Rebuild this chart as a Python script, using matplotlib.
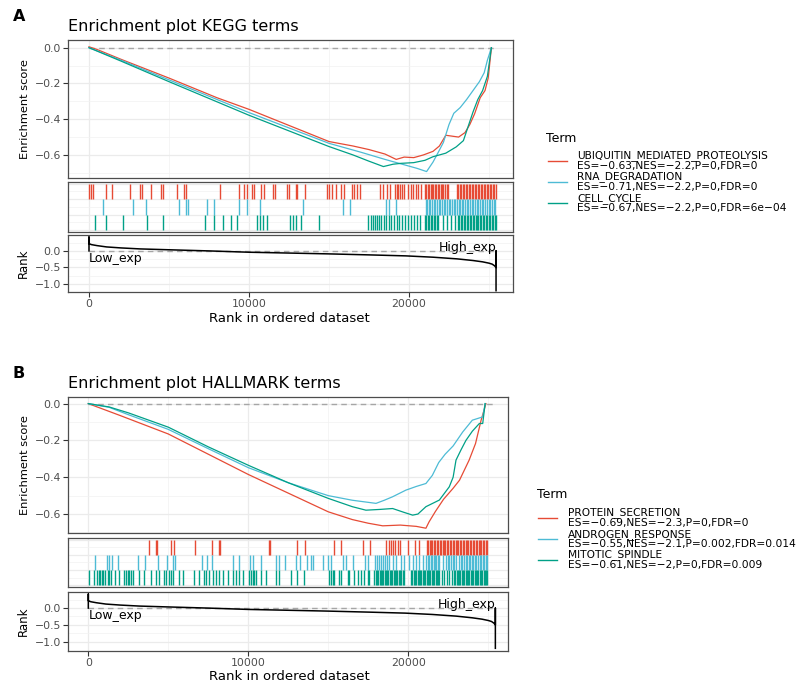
import matplotlib
matplotlib.use("Agg")
import matplotlib.pyplot as plt
from matplotlib.lines import Line2D
from matplotlib.ticker import FixedLocator

plt.rcParams['font.family'] = ['DejaVu Sans']

W, H = 804, 682

# ------------------------------------------------------------------ data
colors = ["#E64B35", "#4DBBD5", "#00A087"]

terms_A = ["UBIQUITIN_MEDIATED_PROTEOLYSIS", "RNA_DEGRADATION", "CELL_CYCLE"]
stats_A = ["ES=\u22120.63,NES=\u22122.2,P=0,FDR=0",
           "ES=\u22120.71,NES=\u22122.2,P=0,FDR=0",
           "ES=\u22120.67,NES=\u22122.2,P=0,FDR=6e\u221204"]
terms_B = ["PROTEIN_SECRETION", "ANDROGEN_RESPONSE", "MITOTIC_SPINDLE"]
stats_B = ["ES=\u22120.69,NES=\u22122.3,P=0,FDR=0",
           "ES=\u22120.55,NES=\u22122.1,P=0.002,FDR=0.014",
           "ES=\u22120.61,NES=\u22122,P=0,FDR=0.009"]

# running enrichment scores (rank, ES)
esA_red_x = [0, 500, 2000, 5000, 8000, 10000, 12500, 15000, 16500, 17500, 18500, 19200, 19700, 20300,
             20900, 21500, 21900, 22300, 22700, 23100, 23500, 23800, 24100, 24450, 24750, 24950, 25150]
esA_red_y = [0.005, -0.01, -0.065, -0.17, -0.28, -0.345, -0.435, -0.525, -0.55, -0.57, -0.595, -0.625,
             -0.612, -0.615, -0.600, -0.58, -0.55, -0.49, -0.495, -0.50, -0.475, -0.43, -0.37, -0.28,
             -0.24, -0.17, 0.0]
esA_blue_x = [0, 2000, 5000, 10000, 15000, 17000, 18500, 19500, 20500, 21100, 21500, 21800, 22150,
              22500, 22800, 23200, 23600, 24000, 24400, 24700, 24900, 25150]
esA_blue_y = [0, -0.07, -0.18, -0.363, -0.535, -0.585, -0.625, -0.65, -0.675, -0.693, -0.64, -0.59,
              -0.53, -0.43, -0.367, -0.335, -0.29, -0.24, -0.19, -0.14, -0.07, 0.0]
esA_green_x = [0, 2000, 5000, 10000, 15000, 16500, 17500, 18400, 19000, 19500, 20300, 21000, 21500,
               22300, 22950, 23400, 23700, 24000, 24300, 24600, 24900, 25150]
esA_green_y = [0, -0.075, -0.19, -0.378, -0.553, -0.60, -0.635, -0.665, -0.652, -0.647, -0.643, -0.63,
               -0.61, -0.59, -0.555, -0.52, -0.44, -0.36, -0.29, -0.24, -0.16, 0.0]

esB_red_x = [0, 2000, 5000, 10000, 15000, 16500, 17500, 18400, 19500, 20500, 21100, 21300, 21700,
             22200, 22800, 23200, 23800, 24200, 24550, 24850]
esB_red_y = [0, -0.065, -0.165, -0.385, -0.588, -0.63, -0.65, -0.664, -0.66, -0.667, -0.677, -0.642,
             -0.585, -0.52, -0.46, -0.416, -0.307, -0.217, -0.09, 0.0]
esB_blue_x = [0, 1300, 2500, 5000, 7500, 10000, 12500, 15000, 16500, 17980, 18500, 19020, 19850,
              20500, 21100, 21500, 21900, 22300, 22800, 23400, 24000, 24650, 24800]
esB_blue_y = [0, -0.02, -0.06, -0.14, -0.245, -0.348, -0.43, -0.5, -0.525, -0.542, -0.525, -0.506,
              -0.47, -0.45, -0.434, -0.39, -0.32, -0.275, -0.23, -0.154, -0.09, -0.072, 0.0]
esB_green_x = [0, 1300, 2500, 5000, 7500, 10000, 12500, 15000, 16500, 17350, 18200, 19020, 19700,
               20270, 20600, 21100, 21940, 22560, 22800, 22980, 23300, 23600, 24000, 24440, 24650, 24800]
esB_green_y = [0, -0.018, -0.05, -0.128, -0.235, -0.335, -0.43, -0.515, -0.56, -0.579, -0.575, -0.57,
               -0.59, -0.606, -0.60, -0.56, -0.524, -0.452, -0.40, -0.307, -0.25, -0.2, -0.15, -0.108,
               -0.108, 0.0]

# hit positions (rank of each gene of the set)
hitsA_red = [20, 104, 270, 1060, 1460, 2560, 3190, 3310, 3875, 4500, 4650, 5480, 5940, 6060, 8190, 9400,
             9670, 9850, 10210, 10330, 10750, 10920, 11500, 11625, 12400, 12520, 12950, 13020, 13480,
             14900, 15020, 15170, 15420, 15750, 15960, 16420, 16580, 16730, 16940, 18190, 18400, 18600,
             18810, 19150, 19250, 19330, 19450, 19560, 19680, 19960, 20100, 20270, 20440, 20580, 20730,
             21000, 21080, 21170, 21260, 21350, 21440, 21530, 21620, 21700, 21790, 21880, 21970, 22060,
             22150, 22250, 22350, 22460, 23000, 23090, 23180, 23280, 23370, 23460, 23550, 23650, 23740,
             23830, 23930, 24020, 24110, 24200, 24300, 24390, 24480, 24580, 24670, 24760, 24860, 24950,
             25040, 25140, 25230, 25320, 25410]
hitsA_blue = [900, 2720, 3580, 5600, 6060, 6190, 7400, 7810, 9390, 9850, 10680, 13380, 15850, 16300,
              18560, 18780, 19190, 21050, 21150, 21250, 21330, 21450, 21560, 21640, 21750, 21860, 21950,
              22060, 22170, 22250, 22360, 22480, 22560, 22680, 22790, 22870, 22990, 23100, 23200, 23290,
              23400, 23520, 23600, 23710, 23830, 23920, 24030, 24130, 24230, 24340, 24440, 24550, 24650,
              24760, 24860, 24970, 25080, 25190, 25300, 25390]
hitsA_green = [375, 1050, 2140, 3650, 4640, 7270, 7800, 8400, 8860, 9280, 10470, 10700, 10900, 11110,
               12580, 12740, 12920, 13280, 14350, 17450, 17600, 17720, 17850, 17990, 18130, 18270, 18410,
               18560, 18720, 18880, 19050, 19230, 19400, 19580, 19760, 19930, 20120, 20300, 20480, 20660,
               21000, 21090, 21180, 21270, 21360, 21460, 21550, 21640, 21730, 21830, 22100, 22380, 22620,
               22850, 23060, 23150, 23240, 23330, 23420, 23510, 23600, 23700, 23790, 23880, 23970, 24060,
               24160, 24250, 24340, 24430, 24530, 24620, 24710, 24800, 24900, 24990, 25080, 25170, 25260,
               25350, 25440]

hitsB_red = [3780, 4210, 4290, 5180, 5330, 6670, 7750, 8150, 8250, 11280, 11380, 13020, 13550, 15380,
             15800, 17190, 17600, 18600, 18770, 18920, 19060, 19190, 19330, 19480, 20000, 20440, 20650,
             21150, 21240, 21330, 21420, 21510, 21600, 21690, 21780, 21870, 21960, 22050, 22140, 22230,
             22320, 22410, 22500, 22590, 22680, 22770, 22860, 22950, 23040, 23130, 23220, 23310, 23400,
             23490, 23580, 23670, 23760, 23850, 23940, 24030, 24120, 24210, 24300, 24390, 24480, 24570,
             24660, 24750, 24850, 24940]
hitsB_blue = [440, 1150, 1270, 1480, 1830, 3080, 3560, 4330, 4900, 5270, 5440, 7080, 7420, 7730, 9020,
              9440, 10100, 10310, 10790, 11730, 11940, 12310, 12990, 13250, 13650, 13920, 14060, 14650,
              14960, 15170, 15900, 16100, 16520, 17310, 17460, 17900, 18030, 18150, 18280, 18410, 18540,
              18670, 18800, 19020, 19230, 19540, 19750, 20060, 20270, 20480, 20690, 20900, 21100, 21200,
              21290, 21390, 21480, 21580, 21670, 21760, 21860, 21940, 22150, 22350, 22450, 22560, 22660,
              22770, 22870, 22980, 23190, 23290, 23380, 23480, 23580, 23680, 23770, 23870, 23970, 24060,
              24160, 24260, 24350, 24450, 24550, 24640, 24740, 24840, 24940]
hitsB_green = [30, 375, 520, 645, 730, 855, 940, 1060, 1210, 1310, 1415, 1690, 1940, 2250, 2355, 2460,
               2560, 2670, 2770, 3145, 3500, 3915, 4230, 4440, 4750, 4855, 5020, 5170, 5270, 5690, 5900,
               6625, 6940, 7250, 7355, 7560, 7770, 7980, 8190, 8440, 8710, 9060, 9230, 9400, 9650, 10060,
               10170, 10270, 10375, 10480, 10790, 11100, 11730, 11900, 12670, 13020, 13500, 15060, 15170,
               15270, 15375, 15690, 15790, 16210, 16310, 16625, 16830, 17040, 17250, 17460, 17560, 17880,
               17960, 18040, 18120, 18200, 18280, 18360, 18440, 18520, 18600, 18680, 18760, 18840, 18920,
               19000, 19080, 19160, 19240, 19320, 19400, 19480, 19560, 19640, 19720, 20170, 20250, 20330,
               20410, 20500, 20580, 20660, 20740, 20820, 20900, 20980, 21060, 21140, 21220, 21300, 21380,
               21460, 21540, 21620, 21700, 21780, 21860, 21940, 22100, 22250, 22400, 22560, 22700, 22860,
               22940, 23020, 23100, 23180, 23260, 23340, 23420, 23500, 23580, 23660, 23740, 23820, 23900,
               23980, 24060, 24140, 24220, 24300, 24380, 24460, 24540, 24620, 24700, 24780, 24860, 24940]

# ranked list metric (rank, value)
rank_x = [0, 0, 0, 150, 500, 1100, 2000, 3200, 5300, 7500, 10000, 12500, 15000, 17500, 19800, 21500,
          23000, 24000, 24600, 25000, 25200, 25350, 25440, 25440, 25440]
rank_y = [0.0, 0.42, 0.22, 0.19, 0.16, 0.12, 0.09, 0.06, 0.03, 0.0, -0.04, -0.065, -0.09, -0.12, -0.15,
          -0.19, -0.24, -0.29, -0.33, -0.37, -0.40, -0.45, -0.5, 0.0, -1.2]
N_genes = 25440

x_ticks = [0, 10000, 20000]
x_ticklabels = ["0", "10000", "20000"]

# ------------------------------------------------------------------ helpers
fig = plt.figure(figsize=(W / 100, H / 100), dpi=100)


def rect(left, top, right, bottom):
    return [left / W, 1 - bottom / H, (right - left) / W, (bottom - top) / H]


def fx(x):
    return x / W


def fy(y):
    return 1 - y / H


BORDER = "#4D4D4D"
GRID = "#EBEBEB"
TICKC = "#4D4D4D"


def style(ax, xlim, ylim, ymaj, ymin, show_x=False, show_y=True):
    ax.set_xlim(*xlim)
    ax.set_ylim(*ylim)
    ax.xaxis.set_major_locator(FixedLocator(x_ticks))
    ax.xaxis.set_minor_locator(FixedLocator([5000, 15000, 25000]))
    ax.yaxis.set_major_locator(FixedLocator(ymaj))
    ax.yaxis.set_minor_locator(FixedLocator(ymin))
    ax.grid(which="major", color=GRID, lw=0.9, zorder=0)
    ax.grid(which="minor", color="#F2F2F2", lw=0.5, zorder=0)
    ax.set_axisbelow(True)
    for s in ax.spines.values():
        s.set_color(BORDER)
        s.set_linewidth(0.9)
    ax.tick_params(which="minor", length=0)
    ax.tick_params(axis="y", which="major", length=3.5 if show_y else 0, width=0.8, color="#333333",
                   pad=1.5, labelsize=7.8, labelcolor=TICKC, labelleft=show_y)
    ax.tick_params(axis="x", which="major", length=3.5 if show_x else 0, width=0.8, color="#333333",
                   pad=1.5, labelsize=7.8, labelcolor=TICKC, labelbottom=show_x)
    if show_x:
        ax.set_xticklabels(x_ticklabels)


def panel(top_px, right_px, xlim, es_lim, rank_lim, hit_tb, rank_tb, es_data, hits, terms, stats,
          title, letter, leg):
    es_top, es_bot = top_px
    ax_es = fig.add_axes(rect(68, es_top, right_px, es_bot))
    style(ax_es, xlim, es_lim, [0.0, -0.2, -0.4, -0.6], [-0.1, -0.3, -0.5, -0.7])
    ax_es.set_yticklabels(["0.0", "\u22120.2", "\u22120.4", "\u22120.6"])
    ax_es.plot([0, N_genes], [0, 0], color="#A6A6A6", lw=1.0, ls=(0, (4, 3)), zorder=1)
    for (xs, ys), c in zip(es_data, colors):
        ax_es.plot(xs, ys, color=c, lw=0.9, zorder=3)

    ax_hit = fig.add_axes(rect(68, hit_tb[0], right_px, hit_tb[1]))
    style(ax_hit, xlim, (-0.12, 3.1), [0, 1, 2, 3], [0.5, 1.5, 2.5], show_y=False)
    for i, (h, c) in enumerate(zip(hits, colors)):
        base = 2 - i
        ax_hit.vlines(h, base, base + 1, color=c, lw=1.0, zorder=3)

    ax_rk = fig.add_axes(rect(68, rank_tb[0], right_px, rank_tb[1]))
    style(ax_rk, xlim, rank_lim, [0.0, -0.5, -1.0], [0.25, -0.25, -0.75], show_x=True)
    ax_rk.set_yticklabels(["0.0", "\u22120.5", "\u22121.0"])
    ax_rk.plot([0, N_genes], [0, 0], color="#A6A6A6", lw=1.0, ls=(0, (4, 3)), zorder=1)
    ax_rk.plot(rank_x, rank_y, color="black", lw=1.1, zorder=3)
    ax_rk.text(0, -0.03, "Low_exp", ha="left", va="top", fontsize=9, zorder=4)
    ax_rk.text(N_genes, 0.01, "High_exp", ha="right", va="baseline", fontsize=9, zorder=4)

    # labels
    fig.text(fx(13), fy(es_top - 19), letter, fontsize=11.5, fontweight="bold", ha="left", va="baseline")
    fig.text(fx(68), fy(es_top - 9.5), title, fontsize=11.5, ha="left", va="baseline")
    fig.text(fx(25), fy((es_top + es_bot) / 2), "Enrichment score", rotation=90, fontsize=8.2,
             ha="center", va="center")
    fig.text(fx(23), fy((rank_tb[0] + rank_tb[1]) / 2), "Rank", rotation=90, fontsize=8.5,
             ha="center", va="center")
    fig.text(fx(289), fy(rank_tb[1] + 26), "Rank in ordered dataset", fontsize=9.5, ha="center",
             va="center")

    # legend
    term_x, term_y, key_x0, key_x1, txt_x, key_ys = leg
    fig.text(fx(term_x), fy(term_y), "Term", fontsize=9, ha="left", va="center")
    for c, t, s, ky in zip(colors, terms, stats, key_ys):
        fig.add_artist(Line2D([fx(key_x0), fx(key_x1)], [fy(ky), fy(ky)], color=c, lw=1.0,
                              transform=fig.transFigure))
        fig.text(fx(txt_x), fy(ky), t + "\n" + s, fontsize=7.7, ha="left", va="center",
                 linespacing=0.92)


panel((40, 178), 513, (-1312, 26500), (-0.729, 0.043), (-1.24, 0.48), (182, 232), (235, 292),
      [(esA_red_x, esA_red_y), (esA_blue_x, esA_blue_y), (esA_green_x, esA_green_y)],
      [hitsA_red, hitsA_blue, hitsA_green], terms_A, stats_A,
      "Enrichment plot KEGG terms", "A",
      (546, 139, 548, 567, 577, [160.5, 181.5, 203]))

panel((397, 533), 508, (-1270, 26230), (-0.703, 0.036), (-1.28, 0.48), (538, 587), (592, 651),
      [(esB_red_x, esB_red_y), (esB_blue_x, esB_blue_y), (esB_green_x, esB_green_y)],
      [hitsB_red, hitsB_blue, hitsB_green], terms_B, stats_B,
      "Enrichment plot HALLMARK terms", "B",
      (537, 495, 538, 557, 568, [517.5, 539, 559.5]))

fig.savefig("out.png", dpi=100)
